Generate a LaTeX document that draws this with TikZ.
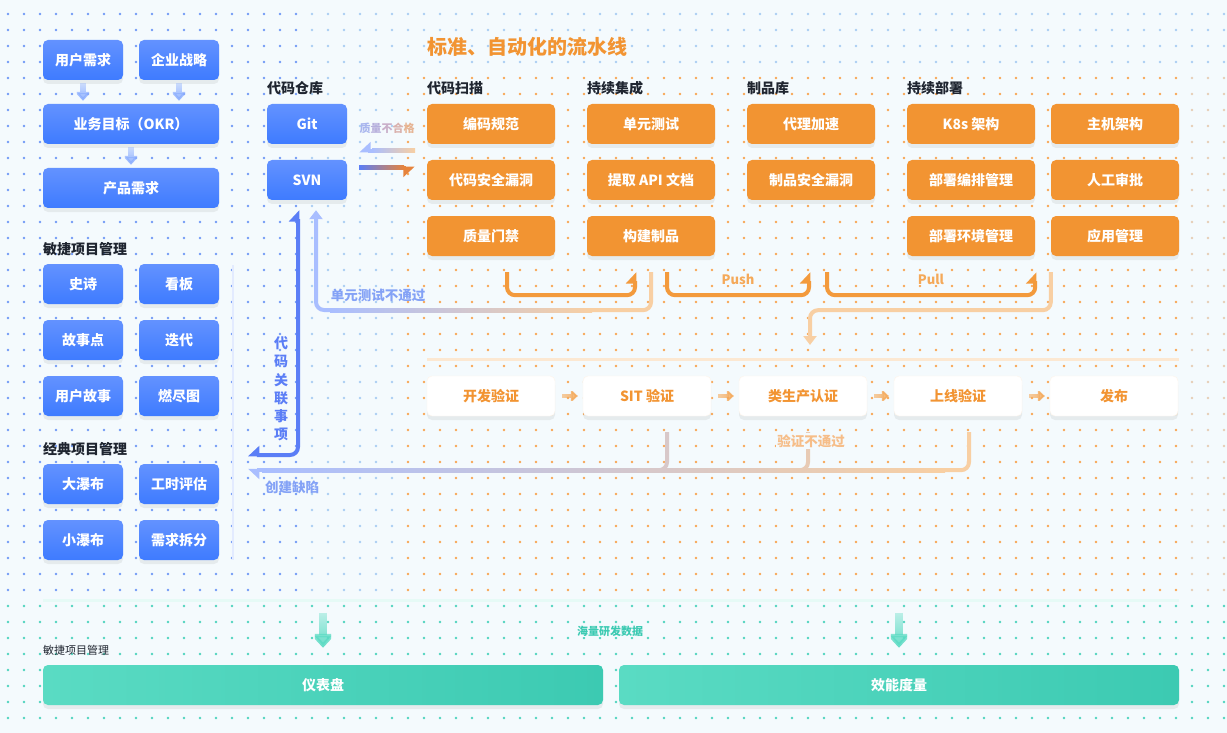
\documentclass[tikz,border=0pt]{standalone}
\usepackage{fontspec}
\setmainfont{Noto Sans CJK SC}
\usetikzlibrary{arrows.meta,shadows,fadings}

\definecolor{bgc}{HTML}{F4FAFD}
\definecolor{blueA}{HTML}{6392FF}
\definecolor{blueB}{HTML}{3E7BFF}
\definecolor{orangeA}{HTML}{F29432}
\definecolor{tealA}{HTML}{5ADBC3}
\definecolor{tealB}{HTML}{3CCAB2}
\definecolor{darkc}{HTML}{1F2530}
\definecolor{dotblue}{HTML}{7199F6}
\definecolor{dotlight}{HTML}{A9CDF3}
\definecolor{dotorange}{HTML}{F8A654}
\definecolor{dotpale}{HTML}{E6CDB5}
\definecolor{dotteal}{HTML}{4FD4BE}
\definecolor{lineblue}{HTML}{5B7EF6}
\definecolor{lblue}{HTML}{A9BEFF}
\definecolor{lorange}{HTML}{F8CFA3}
\definecolor{arrorange}{HTML}{F39A3C}
\definecolor{darkorange}{HTML}{E6833C}
\definecolor{txtblue}{HTML}{84A2F6}
\definecolor{txtorange}{HTML}{F6BD88}

\newcommand\fpx[1]{\fontsize{#1}{#1}\selectfont}

\tikzfading[name=softnorth, top color=transparent!70, bottom color=transparent!0]
\tikzfading[name=softwest, left color=transparent!60, right color=transparent!0]

\tikzset{
  hpl/.tip={Stealth[inset=0pt,length=10pt,width=18pt,left]},
  hpr/.tip={Stealth[inset=0pt,length=10pt,width=18pt,right]},
  ftri/.tip={Triangle[length=9pt,width=13pt]},
}

\begin{document}
\begin{tikzpicture}[x=1pt,y=-1pt,
  boxbase/.style={rectangle, rounded corners=5pt, minimum height=40pt,
    inner sep=0pt, text=white, font=\bfseries\fpx{14},
    drop shadow={shadow xshift=0pt, shadow yshift=-4pt, opacity=0.12, fill=gray}},
  bluebox/.style={boxbase, top color=blueA, bottom color=blueB, minimum width=80pt},
  orgbox/.style={boxbase, fill=orangeA, minimum width=128pt},
  whitebox/.style={boxbase, fill=white, draw=orangeA!10, text=orangeA, minimum width=128pt},
  tealbox/.style={boxbase, left color=tealA, right color=tealB, minimum width=560pt},
  grouplabel/.style={anchor=west, inner sep=0pt, text=darkc, font=\bfseries\fpx{14}},
  smallarrow/.style={draw=blueA!75, line width=6pt, path fading=softnorth, -{Triangle[length=9pt,width=16pt]}},
  bracket/.style={draw=arrorange, line width=4pt, rounded corners=8pt, -{hpl}},
  vstep/.style={draw=arrorange!85, line width=4pt, path fading=softwest,
    shorten <=7pt, shorten >=5pt, -{Triangle[length=7pt,width=13pt]}},
  dataarrow/.style={draw=tealA, line width=8pt, path fading=softnorth, -{Triangle[length=14pt,width=25pt]}},
  ]
  \useasboundingbox (0,0) rectangle (1227,733);
  \fill[bgc] (0,0) rectangle (1227,733);

  % dot grid
  \foreach \x in {8,24,...,296} \foreach \y in {14,30,...,590}
    \fill[dotblue] (\x,\y) circle (1.3);
  \foreach \x in {312,328,...,392} \foreach \y in {14,30,...,590}
    \fill[dotlight] (\x,\y) circle (1.3);
  \foreach \x in {408,424,...,1224} \foreach \y in {14,30,...,62}
    \fill[dotlight] (\x,\y) circle (1.3);
  \foreach \x in {408,424,...,1176} \foreach \y in {78,94,...,590}
    \fill[dotorange] (\x,\y) circle (1.3);
  \foreach \x in {1192,1208,1224} \foreach \y in {78,94,...,590}
    \fill[dotpale] (\x,\y) circle (1.3);
  \foreach \x in {8,24,...,1224} \foreach \y in {606,622,...,726}
    \fill[dotteal] (\x,\y) circle (1.3);

  % requirements
  \node[bluebox] (ureq) at (83,60) {用户需求};
  \node[bluebox] (strat) at (179,60) {企业战略};
  \node[bluebox, minimum width=176pt] (okr) at (131,124) {业务目标（OKR）};
  \node[bluebox, minimum width=176pt] (preq) at (131,188) {产品需求};
  \draw[smallarrow] ([yshift=-3pt]ureq.south) -- ([yshift=3pt]ureq.south |- okr.north);
  \draw[smallarrow] ([yshift=-3pt]strat.south) -- ([yshift=3pt]strat.south |- okr.north);
  \draw[smallarrow] ([yshift=-3pt]okr.south) -- ([yshift=3pt]preq.north);

  % project management
  \node[grouplabel] (lagile) at (43,249) {敏捷项目管理};
  \node[bluebox] (epic) at (83,284) {史诗};
  \node[bluebox] (kanban) at (179,284) {看板};
  \node[bluebox] (spoint) at (83,340) {故事点};
  \node[bluebox] (iter) at (179,340) {迭代};
  \node[bluebox] (ustory) at (83,396) {用户故事};
  \node[bluebox] (burn) at (179,396) {燃尽图};
  \node[grouplabel] (lclassic) at (43,449) {经典项目管理};
  \node[bluebox] (bigwf) at (83,484) {大瀑布};
  \node[bluebox] (hours) at (179,484) {工时评估};
  \node[bluebox] (smallwf) at (83,540) {小瀑布};
  \node[bluebox] (split) at (179,540) {需求拆分};
  \coordinate (ltop) at (233,265);
  \coordinate (lbot) at (233,560);
  \draw[blueA!18, line width=2pt] (ltop) -- (lbot);

  % repository
  \node[grouplabel] (lrepo) at (267,88) {代码仓库};
  \node[bluebox] (git) at (307,124) {Git};
  \node[bluebox] (svn) at (307,180) {SVN};

  % pipeline
  \node[anchor=west, inner sep=0pt, text=orangeA, font=\bfseries\fpx{20}] (title) at (427,47) {标准、自动化的流水线};
  \node[grouplabel] (lscan) at (427,88) {代码扫描};
  \node[grouplabel] (lci) at (587,88) {持续集成};
  \node[grouplabel] (lart) at (747,88) {制品库};
  \node[grouplabel] (lcd) at (907,88) {持续部署};
  \node[orgbox] (code) at (491,124) {编码规范};
  \node[orgbox] (csec) at (491,180) {代码安全漏洞};
  \node[orgbox] (qgate) at (491,236) {质量门禁};
  \node[orgbox] (utest) at (651,124) {单元测试};
  \node[orgbox] (apidoc) at (651,180) {提取 API 文档};
  \node[orgbox] (build) at (651,236) {构建制品};
  \node[orgbox] (proxy) at (811,124) {代理加速};
  \node[orgbox] (artsec) at (811,180) {制品安全漏洞};
  \node[orgbox] (kube) at (971,124) {K8s 架构};
  \node[orgbox] (dorch) at (971,180) {部署编排管理};
  \node[orgbox] (denv) at (971,236) {部署环境管理};
  \node[orgbox] (host) at (1115,124) {主机架构};
  \node[orgbox] (approve) at (1115,180) {人工审批};
  \node[orgbox] (appm) at (1115,236) {应用管理};

  % quality gate between repo and pipeline
  \coordinate (qa) at ([xshift=-12pt,yshift=-7pt]code.south west);
  \coordinate (qb) at ([xshift=12pt,yshift=-7pt]git.south east);
  \coordinate (pa) at ([xshift=12pt,yshift=-8pt]svn.north east);
  \coordinate (pb) at ([xshift=-12pt,yshift=-8pt]csec.north west);
  \draw[lblue, line width=4pt, -{hpr}] (qa) -- (qb);
  \shade[left color=lblue, right color=lorange] (372,149) rectangle (415,153);
  \draw[darkorange, line width=4pt, -{hpr}] (pa) -- (pb);
  \shade[left color=lineblue, middle color=lineblue!50!darkorange, right color=darkorange] (359,166) rectangle (404,170);
  \node[inner sep=0pt, font=\bfseries\fpx{11}] (lfail) at (387,128)
    {{\color[HTML]{A9B6EE}质}{\color[HTML]{B7AFDC}量}{\color[HTML]{C9AFC9}不}{\color[HTML]{DAB2AE}合}{\color[HTML]{E6B596}格}};

  % loops between the stages
  \draw[bracket] ([xshift=16pt,yshift=-16pt]qgate.south) -- ++(0,23) -| ([xshift=-16pt,yshift=-16pt]build.south);
  \draw[bracket] ([xshift=16pt,yshift=-16pt]build.south) -- ++(0,23) -| ([xshift=-2pt,yshift=-72pt]artsec.south);
  \draw[bracket] ([xshift=16pt,yshift=-72pt]artsec.south) -- ++(0,23) -| ([yshift=-16pt]denv.south east);
  \node[fill=bgc, inner sep=1pt, text=arrorange!85, font=\bfseries\fpx{13}] (lpush) at (738,279) {Push};
  \node[fill=bgc, inner sep=1pt, text=arrorange!85, font=\bfseries\fpx{13}] (lpull) at (931,279) {Pull};
  \coordinate (cdown) at (810,345);
  \draw[lorange, line width=4pt, rounded corners=8pt, -{ftri}] ([yshift=-16pt]appm.south west) |- ++(-120,38) -| (cdown);

  % unit test fails
  \draw[lorange, line width=4pt, rounded corners=8pt] ([yshift=-16pt]build.south) |- ++(-60,38);
  \shade[left color=lblue, right color=lorange] (330,308) rectangle (592,312);
  \draw[lblue, line width=4pt, rounded corners=8pt, -{ftri}] (331,310) -| ([xshift=9pt,yshift=-10pt]svn.south);
  \node[inner sep=1pt, text=txtblue, font=\bfseries\fpx{13.5}] (lunit) at (378,295) {单元测试不通过};

  % code linked items
  \coordinate (cissue) at (248,455);
  \draw[lineblue, line width=4pt, rounded corners=8pt, {hpl}-{hpr}] ([xshift=-9pt,yshift=-10pt]svn.south) |- (cissue);
  \node[align=center, inner sep=1pt, text=lineblue, font=\bfseries\fontsize{14}{18.2}\selectfont] (vlink) at (281,389) {代\\码\\关\\联\\事\\项};

  % verification
  \coordinate (sepa) at (427,359);
  \coordinate (sepb) at (1179,359);
  \draw[orangeA!22, line width=3pt] (sepa) -- (sepb);
  \node[whitebox] (vdev) at (491,396) {开发验证};
  \node[whitebox] (vsit) at (647,396) {SIT 验证};
  \node[whitebox] (vpre) at (803,396) {类生产认证};
  \node[whitebox] (vlive) at (958,396) {上线验证};
  \node[whitebox] (vrel) at (1114,396) {发布};
  \foreach \a/\b in {vdev/vsit,vsit/vpre,vpre/vlive,vlive/vrel}
    \draw[vstep] (\a.east) -- (\b.west);

  % verification fails
  \shade[left color=lblue, right color=lorange] (262,468) rectangle (945,472);
  \draw[lorange!59!lblue, line width=4pt, rounded corners=8pt] ([xshift=20pt,yshift=-16pt]vsit.south) |- ++(-30,38);
  \draw[lorange!80!lblue, line width=4pt, rounded corners=8pt] ([xshift=5pt,yshift=-16pt]vpre.south) |- ++(-30,38);
  \draw[lorange, line width=4pt, rounded corners=8pt] ([xshift=11pt,yshift=-16pt]vlive.south) |- ++(-30,38);
  \coordinate (cdefect) at (248,470);
  \draw[lblue, line width=4pt, -{hpl}] (263,470) -- (cdefect);
  \node[fill=bgc, inner sep=1pt, text=txtorange, font=\bfseries\fpx{13.5}] (lverify) at (811,441) {验证不通过};
  \node[inner sep=1pt, text=txtblue, font=\bfseries\fpx{13.5}] (ldefect) at (292,487) {创建缺陷};

  % data
  \coordinate (dsa) at (43,600);
  \coordinate (dsb) at (1179,600);
  \draw[tealA!15, line width=3pt] (dsa) -- (dsb);
  \node[anchor=west, inner sep=0pt, text=darkc, font=\fpx{11}] (ldash) at (43,650) {敏捷项目管理};
  \node[tealbox] (dash) at (323,685) {仪表盘};
  \node[tealbox] (eff) at (899,685) {效能度量};
  \node[fill=bgc, inner sep=1pt, text=tealB, font=\bfseries\fpx{11}] (ldata) at (610,631) {海量研发数据};
  \draw[dataarrow] ([yshift=52pt]dash.north) -- ([yshift=17pt]dash.north);
  \draw[dataarrow] ([yshift=52pt]eff.north) -- ([yshift=17pt]eff.north);
\end{tikzpicture}
\end{document}
